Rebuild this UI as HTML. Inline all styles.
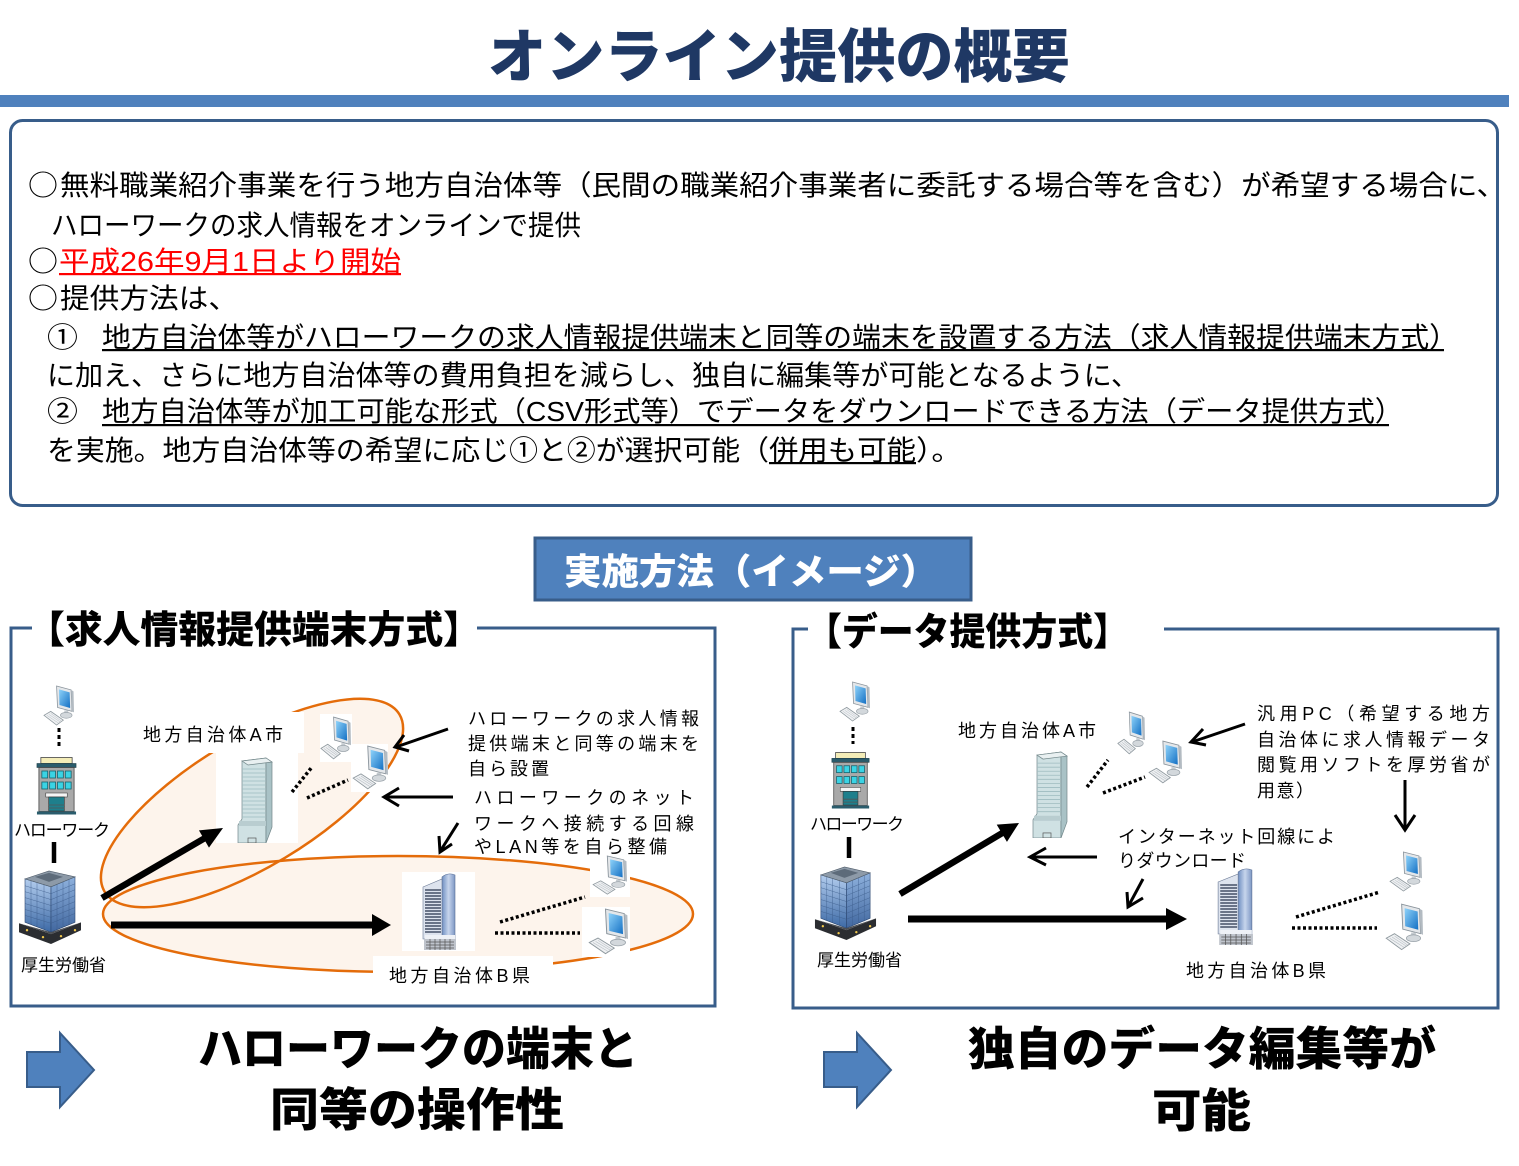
<!DOCTYPE html>
<html><head><meta charset="utf-8">
<style>
html,body{margin:0;padding:0;background:#fff;}
svg{display:block;}
text{font-family:"Liberation Sans","Noto Sans CJK JP",sans-serif;fill:#000;}
.j{font-family:"Noto Sans CJK JP",sans-serif;}
.b{font-weight:900;}
</style></head><body>
<svg width="1519" height="1166" viewBox="0 0 1519 1166" xmlns="http://www.w3.org/2000/svg">
<defs>
 <linearGradient id="scr" x1="0" y1="0" x2="1" y2="1"><stop offset="0" stop-color="#8fd3fa"/><stop offset="1" stop-color="#1470c4"/></linearGradient>
 <linearGradient id="gl" x1="0" y1="0" x2="0" y2="1"><stop offset="0" stop-color="#b3cdee"/><stop offset="1" stop-color="#3d6aa6"/></linearGradient>
 <linearGradient id="gr" x1="0" y1="0" x2="0" y2="1"><stop offset="0" stop-color="#8fb2de"/><stop offset="1" stop-color="#41679f"/></linearGradient>
 <linearGradient id="gb" x1="0" y1="0" x2="1" y2="0"><stop offset="0" stop-color="#6f8fc2"/><stop offset="0.5" stop-color="#c7d5ec"/><stop offset="1" stop-color="#7d97c4"/></linearGradient>
 <symbol id="pc" viewBox="0 0 32 44" preserveAspectRatio="none">
   <polygon points="14,1 29,5 30,27 15,23" fill="#e4e7ea" stroke="#8a949c" stroke-width="0.8"/>
   <polygon points="29,5 31.5,6.5 32,28 30,27" fill="#b3bbc2"/>
   <polygon points="16.5,4.5 27.5,7.5 28,23.5 17,20.5" fill="url(#scr)"/>
   <rect x="22" y="26" width="4" height="5" fill="#c5cbd0"/>
   <ellipse cx="24" cy="31" rx="6" ry="3" fill="#d3d8dc" stroke="#9aa3aa" stroke-width="0.7"/>
   <polygon points="1,31 8,27 21,36 14,41" fill="#eef0f2" stroke="#8f999f" stroke-width="0.8"/>
   <path d="M4,31 L16,39 M6,30 L18,38 M8,29 L19,37" stroke="#b5bcc2" stroke-width="0.5"/>
 </symbol>
 <symbol id="hw" viewBox="0 0 44 58" preserveAspectRatio="none">
   <rect x="6" y="0.5" width="32" height="6" fill="#f4edb8" stroke="#444" stroke-width="0.8"/>
   <rect x="2" y="6.5" width="40" height="4" fill="#2a5c6c" stroke="#1d3e48" stroke-width="0.6"/>
   <rect x="4" y="10.5" width="36" height="44" fill="#a9a9a9" stroke="#444" stroke-width="0.8"/>
   <g fill="#3ad3e4" stroke="#17616b" stroke-width="0.8">
     <rect x="7" y="14" width="6" height="7"/><rect x="15" y="14" width="6" height="7"/><rect x="23" y="14" width="6" height="7"/><rect x="31" y="14" width="6" height="7"/>
     <rect x="7" y="25" width="6" height="7"/><rect x="15" y="25" width="6" height="7"/><rect x="23" y="25" width="6" height="7"/><rect x="31" y="25" width="6" height="7"/>
   </g>
   <rect x="11" y="36" width="22" height="4" fill="#f5f5f5" stroke="#444" stroke-width="0.6"/>
   <rect x="14" y="40" width="16" height="14" fill="#1e7f8c" stroke="#333" stroke-width="0.6"/>
   <path d="M14,48 H30 M14,51 H30" stroke="#555" stroke-width="0.8"/>
   <rect x="2" y="54.5" width="40" height="3" fill="#2a5c6c"/>
 </symbol>
 <symbol id="mh" viewBox="0 0 66 82" preserveAspectRatio="none">
   <polygon points="8,12 34,20 34,66 8,56" fill="url(#gl)" stroke="#2c4770" stroke-width="0.6"/>
   <polygon points="34,20 58,10 58,56 34,66" fill="url(#gr)" stroke="#2c4770" stroke-width="0.6"/>
   <g stroke="#3a5a88" stroke-width="0.5" opacity="0.8">
     <path d="M8,19 L34,27 M8,25 L34,33 M8,31 L34,39 M8,37 L34,45 M8,43 L34,51 M8,49 L34,57"/>
     <path d="M14,14 V58 M20,16 V60 M27,18 V63"/>
     <path d="M34,27 L58,17 M34,33 L58,23 M34,39 L58,29 M34,45 L58,35 M34,51 L58,41 M34,57 L58,47"/>
     <path d="M40,18 V64 M46,15 V61 M52,13 V59"/>
   </g>
   <polygon points="8,12 32,4 58,10 34,20" fill="#8d9aa8" stroke="#4d5a68" stroke-width="0.6"/>
   <polygon points="18,10 32,6 46,10 32,15" fill="#5d6b7a"/>
   <polygon points="2,57 34,68 64,56 64,64 34,78 2,66" fill="#2b2d31"/>
   <polygon points="2,57 34,68 64,56 34,66" fill="#4a4d52"/>
   <g fill="#f2c94c"><circle cx="10" cy="64" r="1.2"/><circle cx="26" cy="71" r="1.2"/><circle cx="44" cy="70" r="1.2"/><circle cx="58" cy="64" r="1.2"/></g>
 </symbol>
 <symbol id="ba" viewBox="0 0 42 86" preserveAspectRatio="none">
   <polygon points="6,4 30,1 30,86 2,86 2,68 6,62" fill="#cfe1e3" stroke="#72878a" stroke-width="0.7"/>
   <polygon points="30,1 36,5 36,70 30,86" fill="#a9c2c6" stroke="#72878a" stroke-width="0.7"/>
   <polygon points="6,4 30,1 36,5 12,8" fill="#e9f0f1" stroke="#72878a" stroke-width="0.7"/>
   <g stroke="#9fbcc0" stroke-width="0.8">
     <path d="M6,12 H30 M6,16 H30 M6,20 H30 M6,24 H30 M6,28 H30 M6,32 H30 M6,36 H30 M6,40 H30 M6,44 H30 M6,48 H30 M6,52 H30 M6,56 H30 M6,60 H30"/>
   </g>
   <rect x="3" y="64" width="27" height="5" fill="#b9cdd0"/>
   <rect x="12" y="81" width="8" height="5" fill="none" stroke="#555" stroke-width="0.7"/>
 </symbol>
 <symbol id="bb" viewBox="0 0 36 78" preserveAspectRatio="none">
   <path d="M21,66 V4 Q27,-1 34,2 V66 Z" fill="url(#gb)" stroke="#5a6f95" stroke-width="0.6"/>
   <polygon points="2,14 21,6 21,66 2,66" fill="#dde3ee" stroke="#6b7a95" stroke-width="0.6"/>
   <g stroke="#25334c" stroke-width="1.2">
     <path d="M4,17 H20 M4,20 H20 M4,23 H20 M4,26 H20 M4,29 H20 M4,32 H20 M4,35 H20 M4,38 H20 M4,41 H20 M4,44 H20 M4,47 H20 M4,50 H20 M4,53 H20 M4,56 H20 M4,59 H20"/>
   </g>
   <rect x="4" y="62" width="30" height="4" fill="#eef1f6"/>
   <rect x="3" y="66" width="32" height="11" fill="#bfc4cc"/>
   <path d="M5,69 H33 M5,72 H33 M5,75 H33 M9,66 V77 M14,66 V77 M19,66 V77 M24,66 V77 M29,66 V77" stroke="#555" stroke-width="0.7"/>
 </symbol>
</defs>

<!-- Title -->
<text class="b" x="488" y="77" font-size="58" style="fill:#1F3864" textLength="582" lengthAdjust="spacingAndGlyphs">オンライン提供の概要</text>
<rect x="0" y="95" width="1509" height="12" fill="#4F81BD"/>

<!-- Text box -->
<rect x="10.5" y="120.5" width="1487" height="385" rx="12" fill="#fff" stroke="#385D8A" stroke-width="3"/>

<text class="j" x="28" y="195" font-size="28" textLength="30" lengthAdjust="spacingAndGlyphs">○</text>
<text x="60" y="195" font-size="28" textLength="1446" lengthAdjust="spacingAndGlyphs">無料職業紹介事業を行う地方自治体等（民間の職業紹介事業者に委託する場合等を含む）が希望する場合に、</text>
<text x="51" y="235" font-size="28" textLength="530" lengthAdjust="spacingAndGlyphs">ハローワークの求人情報をオンラインで提供</text>
<text class="j" x="28" y="271" font-size="28" textLength="30" lengthAdjust="spacingAndGlyphs">○</text>
<text x="59" y="271" font-size="28" textLength="342" lengthAdjust="spacingAndGlyphs" style="fill:#FF0000">平成26年9月1日より開始</text>
<rect x="59" y="273" width="342" height="2.2" fill="#FF0000"/>
<text class="j" x="28" y="308" font-size="28" textLength="30" lengthAdjust="spacingAndGlyphs">○</text>
<text x="60" y="308" font-size="28" textLength="178" lengthAdjust="spacingAndGlyphs">提供方法は、</text>
<text class="j" x="47" y="347" font-size="28" textLength="31" lengthAdjust="spacingAndGlyphs">①</text>
<text x="102" y="347" font-size="28" textLength="1356" lengthAdjust="spacingAndGlyphs">地方自治体等がハローワークの求人情報提供端末と同等の端末を設置する方法（求人情報提供端末方式）</text>
<rect x="102" y="349" width="1342" height="2.2" fill="#000"/>
<text x="47" y="385" font-size="28" textLength="1092" lengthAdjust="spacingAndGlyphs">に加え、さらに地方自治体等の費用負担を減らし、独自に編集等が可能となるように、</text>
<text class="j" x="47" y="421" font-size="28" textLength="31" lengthAdjust="spacingAndGlyphs">②</text>
<text x="102" y="421" font-size="28" textLength="1301" lengthAdjust="spacingAndGlyphs">地方自治体等が加工可能な形式（CSV形式等）でデータをダウンロードできる方法（データ提供方式）</text>
<rect x="102" y="424" width="1287" height="2.2" fill="#000"/>
<text x="47" y="460" font-size="28" textLength="722" lengthAdjust="spacingAndGlyphs">を実施。地方自治体等の希望に応じ①と②が選択可能（</text>
<text x="769" y="460" font-size="28" textLength="147" lengthAdjust="spacingAndGlyphs">併用も可能</text>
<rect x="769" y="462" width="147" height="2.2" fill="#000"/>
<text x="916" y="460" font-size="28" textLength="46" lengthAdjust="spacingAndGlyphs">）。</text>

<!-- 実施方法 box -->
<rect x="535" y="538" width="436" height="62" fill="#4F81BD" stroke="#385D8A" stroke-width="3"/>
<text class="b" x="564" y="584" font-size="36" style="fill:#fff" textLength="374" lengthAdjust="spacingAndGlyphs">実施方法（イメージ）</text>

<!-- Left panel -->
<path d="M32,628 H11 V1006 H715 V628 H477" fill="none" stroke="#385D8A" stroke-width="3"/>
<text class="b" x="27" y="643" font-size="38" textLength="454" lengthAdjust="spacingAndGlyphs">【求人情報提供端末方式】</text>

<ellipse cx="398" cy="914" rx="295" ry="58" fill="#FDF4EC"/>
<ellipse cx="252" cy="803" rx="172" ry="64" transform="rotate(-31 252 803)" fill="#FDF4EC"/>
<ellipse cx="398" cy="914" rx="295" ry="58" fill="none" stroke="#E46C0A" stroke-width="2.5"/>
<ellipse cx="252" cy="803" rx="172" ry="64" transform="rotate(-31 252 803)" fill="none" stroke="#E46C0A" stroke-width="2.5"/>

<g fill="#fff">
 <rect x="140" y="712" width="164" height="41"/>
 <rect x="216" y="753" width="82" height="90"/>
 <rect x="320" y="714" width="32" height="48"/>
 <rect x="351" y="744" width="37" height="48"/>
 <rect x="402" y="872" width="73" height="79"/>
 <rect x="590" y="855" width="40" height="42"/>
 <rect x="582" y="907" width="48" height="50"/>
 <rect x="373" y="956" width="180" height="36"/>
</g>

<use href="#pc" x="43" y="685" width="31" height="43"/>
<use href="#hw" x="35" y="757" width="43" height="58"/>
<use href="#mh" x="17" y="867" width="66" height="81"/>
<use href="#ba" x="236" y="757" width="42" height="86"/>
<use href="#pc" x="320" y="716" width="31" height="46"/>
<use href="#pc" x="352" y="745" width="36" height="47"/>
<use href="#bb" x="421" y="873" width="36" height="78"/>
<use href="#pc" x="592" y="855" width="35" height="42"/>
<use href="#pc" x="588" y="908" width="40" height="49"/>

<g stroke="#000" fill="none">
 <path d="M59,728 V749" stroke-width="3" stroke-dasharray="4 3"/>
 <path d="M54,842 V863" stroke-width="4.5"/>
 <g stroke-width="3.5" stroke-dasharray="3 2.5">
  <path d="M292,792 L312,767"/>
  <path d="M307,798 L348,780"/>
  <path d="M500,922 L585,897"/>
  <path d="M495,933 L580,933"/>
 </g>
 <path d="M102,898 L205,838" stroke-width="6.5"/>
 <path d="M111,925 L375,925" stroke-width="7"/>
 <g stroke-width="3">
  <path d="M448,729 L396,747"/><path d="M404,735 L395,747 L409,751"/>
  <path d="M453,797 L385,797"/><path d="M399,788 L384,797 L399,806"/>
  <path d="M458,823 L441,850"/><path d="M439,836 L440,852 L452,844"/>
 </g>
</g>
<polygon points="223,828 208.97,847.68 198.95,830.37" fill="#000"/>
<polygon points="372,914 391,925 372,936" fill="#000"/>

<text x="143" y="741" font-size="18" textLength="140" lengthAdjust="spacing">地方自治体A市</text>
<text x="389" y="982" font-size="18" textLength="141" lengthAdjust="spacing">地方自治体B県</text>
<text x="14" y="836" font-size="17" textLength="96" lengthAdjust="spacing">ハローワーク</text>
<text x="21" y="971" font-size="17" textLength="85" lengthAdjust="spacing">厚生労働省</text>
<text x="468" y="725" font-size="18" textLength="231" lengthAdjust="spacing">ハローワークの求人情報</text>
<text x="468" y="750" font-size="18" textLength="231" lengthAdjust="spacing">提供端末と同等の端末を</text>
<text x="468" y="775" font-size="18" textLength="81" lengthAdjust="spacing">自ら設置</text>
<text x="474" y="804" font-size="18" textLength="220" lengthAdjust="spacing">ハローワークのネット</text>
<text x="474" y="830" font-size="18" textLength="220" lengthAdjust="spacing">ワークへ接続する回線</text>
<text x="474" y="853" font-size="18" textLength="193" lengthAdjust="spacing">やLAN等を自ら整備</text>

<!-- Right panel -->
<path d="M808,629 H793 V1008 H1498 V629 H1164" fill="none" stroke="#385D8A" stroke-width="3"/>
<text class="b" x="806" y="645" font-size="38" textLength="323" lengthAdjust="spacingAndGlyphs">【データ提供方式】</text>

<use href="#pc" x="839" y="681" width="31" height="43"/>
<use href="#hw" x="830" y="752" width="41" height="57"/>
<use href="#mh" x="813" y="863" width="65" height="81"/>
<use href="#ba" x="1031" y="751" width="42" height="87"/>
<use href="#pc" x="1117" y="711" width="28" height="46"/>
<use href="#pc" x="1148" y="740" width="34" height="46"/>
<use href="#bb" x="1216" y="868" width="38" height="78"/>
<use href="#pc" x="1389" y="851" width="33" height="43"/>
<use href="#pc" x="1385" y="903" width="38" height="50"/>

<g stroke="#000" fill="none">
 <path d="M853,727 V744" stroke-width="3" stroke-dasharray="4 3"/>
 <path d="M849,837 V858" stroke-width="4.5"/>
 <g stroke-width="3.5" stroke-dasharray="3 2.5">
  <path d="M1087,787 L1108,760"/>
  <path d="M1103,793 L1145,777"/>
  <path d="M1296,917 L1380,892"/>
  <path d="M1292,928 L1377,928"/>
 </g>
 <path d="M900,894 L1004,832" stroke-width="6.5"/>
 <path d="M908,919 L1168,919" stroke-width="7"/>
 <g stroke-width="3">
  <path d="M1245,724 L1192,742"/><path d="M1203,729 L1191,742 L1206,745"/>
  <path d="M1405,780 L1405,828"/><path d="M1395,815 L1405,830 L1415,815"/>
  <path d="M1097,857 L1031,857"/><path d="M1046,848 L1030,857 L1046,865"/>
  <path d="M1143,879 L1129,905"/><path d="M1127,892 L1128,907 L1143,898"/>
 </g>
</g>
<polygon points="1019,823 1006.95,841.84 996.71,824.66" fill="#000"/>
<polygon points="1166,908 1187,919 1166,930" fill="#000"/>

<text x="958" y="737" font-size="18" textLength="138" lengthAdjust="spacing">地方自治体A市</text>
<text x="1186" y="977" font-size="18" textLength="140" lengthAdjust="spacing">地方自治体B県</text>
<text x="810" y="830" font-size="17" textLength="94" lengthAdjust="spacing">ハローワーク</text>
<text x="817" y="966" font-size="17" textLength="85" lengthAdjust="spacing">厚生労働省</text>
<text x="1257" y="720" font-size="18" textLength="233" lengthAdjust="spacing">汎用PC（希望する地方</text>
<text x="1257" y="746" font-size="18" textLength="233" lengthAdjust="spacing">自治体に求人情報データ</text>
<text x="1257" y="771" font-size="18" textLength="233" lengthAdjust="spacing">閲覧用ソフトを厚労省が</text>
<text x="1257" y="797" font-size="18" textLength="57" lengthAdjust="spacing">用意）</text>
<text x="1118" y="843" font-size="18" textLength="217" lengthAdjust="spacing">インターネット回線によ</text>
<text x="1118" y="867" font-size="18" textLength="128" lengthAdjust="spacing">りダウンロード</text>

<!-- Bottom -->
<polygon points="27,1052 60,1052 60,1033 94,1070 60,1107 60,1087 27,1087" fill="#4F81BD" stroke="#385D8A" stroke-width="2"/>
<polygon points="824,1052 857,1052 857,1033 891,1070 857,1107 857,1087 824,1087" fill="#4F81BD" stroke="#385D8A" stroke-width="2"/>
<text class="b" x="198" y="1065" font-size="46" textLength="440" lengthAdjust="spacingAndGlyphs">ハローワークの端末と</text>
<text class="b" x="270" y="1126" font-size="46" textLength="294" lengthAdjust="spacingAndGlyphs">同等の操作性</text>
<text class="b" x="968" y="1065" font-size="46" textLength="468" lengthAdjust="spacingAndGlyphs">独自のデータ編集等が</text>
<text class="b" x="1152" y="1127" font-size="46" textLength="99" lengthAdjust="spacingAndGlyphs">可能</text>
</svg>
</body></html>
